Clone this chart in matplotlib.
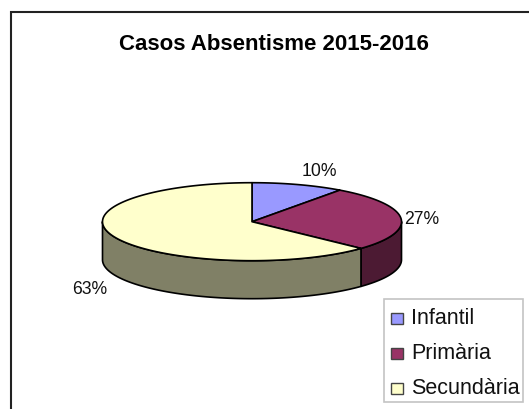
import matplotlib
matplotlib.use('Agg')
import matplotlib.pyplot as plt
import numpy as np
from matplotlib.patches import Rectangle, Polygon

categories = ['Infantil', 'Primària', 'Secundària']
values = [10, 27, 63]
labels = ['10%', '27%', '63%']
top_colors = ['#9999FF', '#993366', '#FFFFCC']
side_colors = ['#4C4C80', '#4C1A33', '#808066']

W, H = 529, 410
CX, CY, RX, RY, DEPTH = 252, 222.7, 149.5, 39, 38

plt.rcParams['font.family'] = ['Liberation Sans', 'DejaVu Sans']

fig = plt.figure(figsize=(W / 100, H / 100), dpi=100)
ax = fig.add_axes([0, 0, 1, 1])
ax.set_xlim(0, W)
ax.set_ylim(H, 0)  # pixel coordinates, y down
ax.axis('off')


def rim(a0, a1):
    t = np.radians(np.linspace(a0, a1, 200))
    return CX + RX * np.sin(t), CY - RY * np.cos(t)


# outer frame, runs off the right and bottom of the picture
ax.add_patch(Rectangle((10.5, 12.5), 600, 500, fc='white', ec='#222222', lw=1.5))

# slice angles, clockwise from 12 o'clock
edges = np.concatenate([[0], np.cumsum(values)]) / np.sum(values) * 360

# side wall, only the front half of the rim shows
for a0, a1, c in zip(edges[:-1], edges[1:], side_colors):
    lo, hi = max(a0, 90), min(a1, 270)
    if lo >= hi:
        continue
    x, y = rim(lo, hi)
    pts = np.column_stack([np.r_[x, x[::-1]], np.r_[y, y[::-1] + DEPTH]])
    ax.add_patch(Polygon(pts, fc=c, ec='black', lw=1.2, joinstyle='round'))

# top face
for a0, a1, c in zip(edges[:-1], edges[1:], top_colors):
    x, y = rim(a0, a1)
    pts = np.column_stack([np.r_[CX, x], np.r_[CY, y]])
    ax.add_patch(Polygon(pts, fc=c, ec='black', lw=1.2, joinstyle='round'))

ax.text(274, 45, 'Casos Absentisme 2015-2016', ha='center', va='center',
        fontsize=16, fontweight='bold', color='black')

label_pos = [(319, 172), (422, 220), (90, 290)]
for s, (lx, ly) in zip(labels, label_pos):
    ax.text(lx, ly, s, ha='center', va='center', fontsize=12.7, color='#111111')

# legend box
ax.add_patch(Rectangle((383.5, 300), 139, 103, fc='white', ec='#C4C4C4', lw=1.2))
for i, (name, c) in enumerate(zip(categories, top_colors)):
    ly = 319 + i * 35
    ax.add_patch(Rectangle((391, ly - 5.5), 12, 11, fc=c, ec='#444444', lw=1.0))
    ax.text(411, ly, name, ha='left', va='center', fontsize=15.5, color='#111111')

fig.savefig('out.png', dpi=100)
